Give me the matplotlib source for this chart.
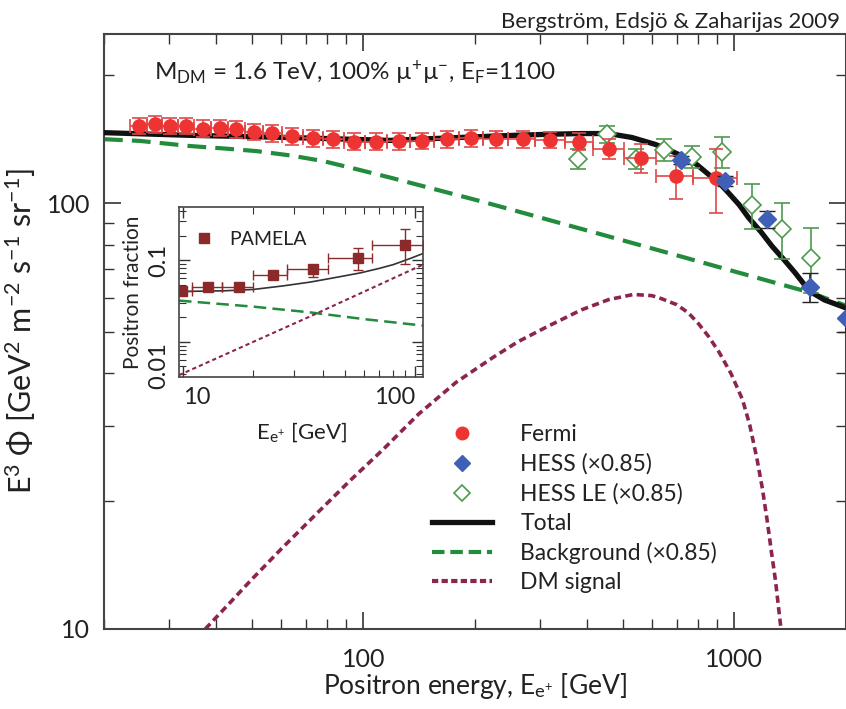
import numpy as np
import matplotlib
matplotlib.use("Agg")
import matplotlib.pyplot as plt
from matplotlib.lines import Line2D
from matplotlib.ticker import LogLocator, NullFormatter, FixedLocator, FixedFormatter

plt.rcParams['font.family'] = ['Lato', 'DejaVu Sans']
plt.rcParams['mathtext.fontset'] = 'custom'
plt.rcParams['mathtext.rm'] = 'Lato'
plt.rcParams['mathtext.it'] = 'Lato:italic'
plt.rcParams['mathtext.bf'] = 'Lato:bold'
plt.rcParams['mathtext.sf'] = 'Lato'

# --- Fermi (GeV, E^3 flux) ---
fermi_E = [24.8, 27.4, 30.1, 33.3, 36.9, 41.0, 45.5, 50.7, 56.9, 64.3, 73.1, 83.1, 94.5,
           108.4, 124.7, 143.6, 167.9, 195, 228, 269, 319, 381, 460, 561, 698, 890]
fermi_y = [152, 153.4, 152, 152, 149.9, 150.4, 149.3, 147.2, 146.3, 143.9, 142.2, 141.4, 139.7,
           139.7, 139.9, 140.2, 141.4, 142.2, 141.4, 141.4, 140.9, 139.7, 134.5, 127.8, 115.9, 114.5]
fermi_err = [6.8, 6.9, 6.8, 6.8, 6.7, 6.7, 6.7, 6.6, 6.6, 6.5, 6.4, 6.4, 6.3,
             6.3, 6.3, 6.3, 6.4, 6.4, 6.4, 6.4, 6.3, 6.3, 7.5, 10, 13.5, 19.5]
fermi_edges = [23.5, 26.1, 28.7, 31.6, 35.0, 38.9, 43.2, 48.0, 53.7, 60.5, 68.6, 78.0, 88.6,
               101, 116, 134, 155, 181, 210, 245, 290, 350, 417, 505, 614, 773, 1016]

# --- HESS (x0.85) ---
hess_E = [719, 941, 1222, 1595, 2004]
hess_y = [126.4, 112.8, 91.7, 63.5, 53.8]
hess_err = [2.5, 3.0, 4.0, 5.0, 4.0]

# --- HESS LE (x0.85) ---
hessle_E = [378, 453, 544, 648, 770, 928, 1119, 1341, 1610]
hessle_y = [127.4, 145.3, 127.4, 133.5, 128.8, 132.3, 98.9, 87.2, 74.5]
hessle_err = [7, 6.6, 7, 8, 7.8, 11, 12, 13, 13]

# --- model curves ---
total_E = [20, 34, 63.4, 118, 207, 255, 314, 387, 458, 530, 612, 660, 723, 790, 852, 910,
           963, 1030, 1093, 1180, 1264, 1360, 1458, 1595, 1750, 2000]
total_y = [146.6, 144.5, 142.8, 140.6, 143.5, 144.5, 145.3, 145.9, 145.9, 142.8, 137.6, 134.0,
           129.2, 123.6, 117, 111.8, 106, 99.3, 92.5, 85.7, 79.3, 73.8, 68.7, 62.2, 59.3, 56.8]
bg_E = [20, 25, 34, 42, 51.5, 64, 78, 96, 118, 150, 207, 300, 450, 700, 1000, 1595, 2000]
bg_y = [141.5, 140.2, 136.4, 134.6, 132.7, 129.5, 125.7, 120.3, 115, 108.9, 101.2, 92.6,
        84.0, 75.5, 69.2, 61.8, 57.5]
dm_E = [37.5, 44, 49.7, 60, 75, 92, 113, 141, 178, 224, 261, 314, 387, 458, 535, 600,
        637, 700, 752, 800, 852, 910, 980, 1052, 1100, 1152, 1190, 1226, 1260, 1291, 1336]
dm_y = [10, 11.6, 13.0, 15.4, 18.7, 22.3, 26.4, 32.0, 38.0, 43.5, 47.3, 51.4, 56.2, 59.4,
        61.1, 60.7, 59.7, 57.8, 55.3, 52.2, 48.7, 44.7, 39.8, 34.6, 30.2, 25, 21.4, 18.0,
        15.1, 13.0, 10]

# --- inset: PAMELA positron fraction ---
pam_E = [9.9, 12.85, 17.4, 24.4, 36.2, 56.8, 89.9]
pam_f = [0.0414, 0.0464, 0.0464, 0.066, 0.0774, 0.107, 0.156]
pam_lo = [0.040, 0.045, 0.045, 0.064, 0.063, 0.077, 0.090]
pam_hi = [0.043, 0.048, 0.048, 0.068, 0.088, 0.142, 0.239]
pam_edges = [9.0, 10.9, 14.7, 20, 28, 42, 65, 108]
ins_tot_E = [9.6, 15, 20, 27, 35.3, 45, 57.9, 70, 80.5, 95, 108]
ins_tot_f = [0.0414, 0.0422, 0.0438, 0.0485, 0.054, 0.0612, 0.0699, 0.0795, 0.0885, 0.105, 0.121]
ins_bg_E = [9.6, 20, 35, 60, 108]
ins_bg_f = [0.032, 0.027, 0.023, 0.019, 0.0158]
ins_dm_E = [9.6, 35.8, 108]
ins_dm_f = [0.0039, 0.0209, 0.0885]

red = '#ee3333'
blue = '#4060b8'
green_pt = '#4f9a4f'
green_ln = '#228b3c'
maroon = '#8b2550'
pam_col = '#8b2a2a'
txt = '#222222'

fig = plt.figure(figsize=(8.46, 7.09), dpi=100)
ax = fig.add_axes([104/846, 80/709, 742/846, 595/709])

ax.plot(bg_E, bg_y, color=green_ln, lw=3, dashes=(4.5, 2.2), zorder=2)
ax.plot(dm_E, dm_y, color=maroon, lw=2.6, dashes=(2.0, 1.2), zorder=2)
ax.plot(total_E, total_y, color='#111111', lw=3.8, zorder=3)

fE = np.array(fermi_E)
fed = np.array(fermi_edges)
ax.errorbar(fermi_E, fermi_y, yerr=fermi_err, xerr=[fE - fed[:-1], fed[1:] - fE],
            fmt='o', color=red, ms=9.5, ecolor='#e04848', elinewidth=1.2, capsize=5,
            capthick=1.2, zorder=5)
ax.errorbar(hessle_E, hessle_y, yerr=hessle_err, fmt='D', mfc='white', mec=green_pt,
            ms=9, mew=1.2, ecolor=green_pt, elinewidth=1.2, capsize=6, zorder=4)
ax.errorbar(hess_E, hess_y, yerr=hess_err, fmt='D', color=blue, ms=9.5,
            ecolor='#222222', elinewidth=1.2, capsize=6, zorder=6)

ax.set_xscale('log')
ax.set_yscale('log')
ax.set_xlim(20, 2000)
ax.set_ylim(10, 250)
ax.xaxis.set_major_locator(FixedLocator([100, 1000]))
ax.xaxis.set_major_formatter(FixedFormatter(['100', '1000']))
ax.xaxis.set_minor_locator(LogLocator(base=10, subs=np.arange(2, 10)))
ax.xaxis.set_minor_formatter(NullFormatter())
ax.yaxis.set_major_locator(FixedLocator([10, 100]))
ax.yaxis.set_major_formatter(FixedFormatter(['10', '100']))
ax.yaxis.set_minor_locator(LogLocator(base=10, subs=np.arange(2, 10)))
ax.yaxis.set_minor_formatter(NullFormatter())
ax.tick_params(which='both', direction='in', top=True, right=True, color='#333333')
ax.tick_params(which='major', length=12, width=1.2, labelsize=18, labelcolor=txt)
ax.tick_params(axis='x', which='major', pad=14)
ax.tick_params(axis='y', which='major', pad=10)
ax.tick_params(which='minor', length=7, width=1.0)
for s in ax.spines.values():
    s.set_linewidth(1.5)
    s.set_color('#444444')

ax.set_xlabel('Positron energy, E$_{\\mathrm{e}^{+}}$ [GeV]', fontsize=19, color=txt, labelpad=0)
ax.set_ylabel('E$^{3}$ Φ [GeV$^{2}$ m$^{-2}$ s$^{-1}$ sr$^{-1}$]', fontsize=22, color=txt,
              labelpad=6)

ax.text(0.067, 0.935, 'M$_{\\mathrm{DM}}$ = 1.6 TeV, 100% µ$^{+}$µ$^{-}$, E$_{\\mathrm{F}}$=1100',
        transform=ax.transAxes, fontsize=17.5, color=txt, va='center', ha='left')
fig.text(0.993, 0.969, 'Bergström, Edsjö & Zaharijas 2009', fontsize=16, color=txt,
         ha='right', va='center')

handles = [
    Line2D([], [], ls='none', marker='o', color=red, ms=9),
    Line2D([], [], ls='none', marker='D', color=blue, ms=8.5),
    Line2D([], [], ls='none', marker='D', mfc='white', mec=green_pt, ms=8.5, mew=1.2),
    Line2D([], [], color='#111111', lw=3.8),
    Line2D([], [], color=green_ln, lw=3, dashes=(3, 1.4)),
    Line2D([], [], color=maroon, lw=3, dashes=(1.5, 0.8)),
]
labels = ['Fermi', 'HESS (×0.85)', 'HESS LE (×0.85)', 'Total', 'Background (×0.85)', 'DM signal']
fig.legend(handles, labels, loc='upper left', bbox_to_anchor=(432/846, 1 - 424/709),
           frameon=False, fontsize=16.5, handlelength=2.6, handletextpad=1.25,
           labelspacing=0.36, borderpad=0, borderaxespad=0, labelcolor=txt)

# inset
ins = fig.add_axes([179/846, 332/709, 244/846, 170/709])
ins.set_facecolor('white')
ins.plot(ins_bg_E, ins_bg_f, color=green_ln, lw=1.8, dashes=(5, 2.5))
ins.plot(ins_dm_E, ins_dm_f, color=maroon, lw=1.5, dashes=(2, 1.5))
ins.plot(ins_tot_E, ins_tot_f, color='#333333', lw=1.2)
pE = np.array(pam_E)
ped = np.array(pam_edges)
pf = np.array(pam_f)
ins.errorbar(pam_E, pam_f, xerr=[pE - ped[:-1], ped[1:] - pE],
             yerr=[pf - np.array(pam_lo), np.array(pam_hi) - pf], fmt='s', color=pam_col,
             ms=7.5, elinewidth=1.0, capsize=3.5, zorder=5)
ins.set_xscale('log')
ins.set_yscale('log')
ins.set_xlim(9.6, 108)
ins.set_ylim(0.0037, 0.45)
ins.xaxis.set_major_locator(FixedLocator([10, 100]))
ins.xaxis.set_major_formatter(FixedFormatter(['10', '100']))
ins.xaxis.set_minor_locator(LogLocator(base=10, subs=np.arange(2, 10)))
ins.xaxis.set_minor_formatter(NullFormatter())
ins.yaxis.set_major_locator(FixedLocator([0.01, 0.1]))
ins.yaxis.set_major_formatter(FixedFormatter(['0.01', '0.1']))
ins.yaxis.set_minor_locator(LogLocator(base=10, subs=np.arange(2, 10)))
ins.yaxis.set_minor_formatter(NullFormatter())
ins.tick_params(which='both', direction='in', top=True, right=True, color='#333333')
ins.tick_params(which='major', length=8, width=1.0, labelsize=17, pad=7, labelcolor=txt)
ins.tick_params(which='minor', length=5, width=0.8)
xl = ins.get_xticklabels()
xl[0].set_ha('left')
xl[1].set_ha('right')
yl = ins.get_yticklabels()
for lab in yl:
    lab.set_rotation(90)
    lab.set_va('center')
yl[0].set_va('top')
for s in ins.spines.values():
    s.set_linewidth(1.2)
    s.set_color('#444444')
ins.set_xlabel('E$_{\\mathrm{e}^{+}}$ [GeV]', fontsize=16, color=txt, labelpad=9)
ins.set_ylabel('Positron fraction', fontsize=15, color=txt, labelpad=4)
ins.legend([Line2D([], [], ls='none', marker='s', color=pam_col, ms=7.5)], ['PAMELA'],
           loc='upper left', bbox_to_anchor=(0.0, 0.94), frameon=False, fontsize=14,
           handlelength=1.2, handletextpad=0.7, borderpad=0.2, labelcolor=txt)

fig.savefig('out.png', dpi=100)
